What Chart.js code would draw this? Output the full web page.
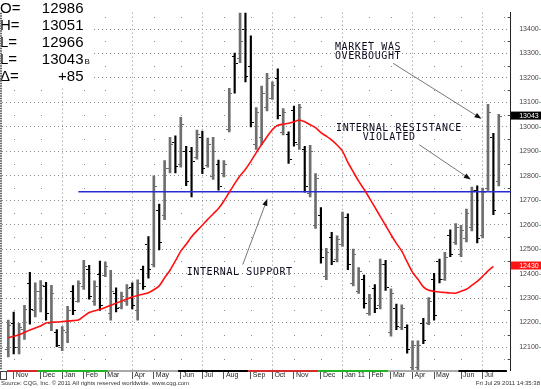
<!DOCTYPE html>
<html>
<head>
<meta charset="utf-8">
<script src="https://cdn.jsdelivr.net/npm/chart.js@4.4.0/dist/chart.umd.min.js"></script>
<style>
  html, body { margin: 0; padding: 0; background: #fff; }
  canvas { display: block; }
</style>
</head>
<body>
<canvas id="chart" width="541" height="389"></canvas>
<script>
// weekly bars, index 0 = week of 26 Oct 2009, last = week of 25 Jul 2011
const highs = [
  12210, 12243, 12197, 12270, 12405, 12362, 12372, 12364, 12352, 12171,
  12184, 12266, 12351, 12371, 12454, 12434, 12371, 12451, 12447, 12414,
  12342, 12325, 12355, 12362, 12375, 12431, 12552, 12800, 12684, 12862,
  12957, 12964, 13039, 12921, 12917, 12987, 12983, 12954, 12957, 12864,
  12862, 13158, 13302, 13480, 13470, 13372, 13079, 13167, 13219, 13184,
  13237, 13075, 12980, 13085, 13092, 12921, 12925, 12809, 12670, 12504,
  12569, 12555, 12652, 12645, 12500, 12425, 12394, 12315, 12355, 12460,
  12454, 12338, 12276, 12272, 12191, 12125, 12125, 12217, 12302, 12401,
  12460, 12487, 12579, 12605, 12598, 12664, 12754, 12759, 12750, 13092,
  12974, 13051
];
const lows = [
  12059, 12072, 12072, 12131, 12193, 12223, 12243, 12210, 12167, 12101,
  12085, 12118, 12232, 12283, 12335, 12296, 12270, 12250, 12388, 12210,
  12243, 12256, 12270, 12256, 12210, 12335, 12381, 12427, 12497, 12621,
  12812, 12812, 12835, 12760, 12714, 12868, 12809, 12835, 12785, 12741,
  12795, 12980, 13138, 13263, 13184, 13000, 12908, 12927, 13065, 13112,
  13033, 12967, 12851, 12921, 12908, 12733, 12714, 12585, 12443, 12375,
  12437, 12448, 12511, 12416, 12350, 12319, 12259, 12230, 12240, 12256,
  12331, 12144, 12171, 12171, 12075, 11990, 11990, 12114, 12191, 12210,
  12362, 12372, 12469, 12519, 12469, 12530, 12575, 12526, 12546, 12740,
  12641, 12759
];
const opens = [
  12090, 12200, 12100, 12175, 12360, 12250, 12330, 12350, 12200, 12160,
  12100, 12160, 12330, 12290, 12350, 12420, 12290, 12400, 12395, 12240,
  12320, 12265, 12290, 12345, 12250, 12420, 12520, 12440, 12660, 12640,
  12830, 12940, 12850, 12900, 12900, 12875, 12960, 12845, 12800, 12850,
  12810, 12990, 13290, 13280, 13400, 13250, 12930, 12960, 13080, 13120,
  13200, 12980, 12970, 13070, 12930, 12910, 12730, 12600, 12640, 12390,
  12550, 12460, 12520, 12630, 12360, 12330, 12380, 12240, 12340, 12270,
  12440, 12160, 12260, 12180, 12180, 12020, 12020, 12200, 12200, 12380,
  12450, 12380, 12560, 12530, 12480, 12545, 12590, 12740, 12560, 12750,
  12960, 12780
];
const closes = [
  12190, 12100, 12180, 12255, 12255, 12330, 12355, 12240, 12320, 12110,
  12170, 12250, 12250, 12360, 12430, 12310, 12350, 12270, 12430, 12330,
  12260, 12310, 12340, 12270, 12360, 12350, 12420, 12760, 12530, 12830,
  12930, 12840, 13010, 12780, 12860, 12970, 12830, 12930, 12900, 12760,
  12850, 13140, 13260, 13350, 13210, 13020, 13060, 13140, 13200, 13170,
  13050, 13060, 12870, 12940, 13080, 12760, 12900, 12790, 12470, 12490,
  12450, 12540, 12630, 12440, 12480, 12410, 12280, 12300, 12260, 12440,
  12345, 12320, 12185, 12260, 12090, 12110, 12110, 12130, 12290, 12230,
  12380, 12470, 12480, 12590, 12580, 12650, 12740, 12545, 12735, 13060,
  12660, 13043
];
// red moving average, one value per bar up to the second last bar
const movingAvg = [
  12138, 12144, 12150, 12160, 12170, 12178, 12186, 12198, 12201, 12202,
  12204, 12206, 12208, 12210, 12226, 12241, 12248, 12254, 12262, 12271,
  12279, 12288, 12296, 12305, 12311, 12316, 12322, 12334, 12350, 12383,
  12414, 12452, 12492, 12520, 12551, 12575, 12598, 12622, 12644, 12666,
  12697, 12733, 12768, 12800, 12827, 12859, 12895, 12928, 12960, 12989,
  13007, 13011, 13015, 13021, 13028, 13021, 13009, 12997, 12977, 12962,
  12946, 12926, 12901, 12855, 12816, 12778, 12745, 12709, 12672, 12634,
  12597, 12559, 12524, 12492, 12448, 12405, 12377, 12346, 12332, 12328,
  12325, 12323, 12321, 12320, 12328, 12336, 12352, 12368, 12389, 12411,
  12430
];
const supportLevel = 12735;
const supportFromBar = 13;

const yTicks = [12100, 12200, 12300, 12400, 12500, 12600, 12700, 12800, 12900, 13000, 13100, 13200, 13300, 13400];
const monthStarts = [1, 6, 10, 14, 18, 23, 27, 32, 36, 40, 45, 49, 53, 58, 62, 67, 71, 75, 79, 84, 88];
const monthNames = ['Nov', 'Dec', 'Jan', 'Feb', 'Mar', 'Apr', 'May', 'Jun', 'Jul', 'Aug', 'Sep', 'Oct', 'Nov', 'Dec', 'Jan 11', 'Feb', 'Mar', 'Apr', 'May', 'Jun', 'Jul'];
const quarterStarts = [10, 23, 36, 49, 62, 75, 88];
const contractBreaks = [-0.5, 5.5, 18.5, 31.5, 44.5, 57.5, 70.5, 83.5, 92.5];
const contractCodes = ['Z', 'H', 'M', 'U', 'Z', 'H', 'M', 'U'];

const quoteLabels = ['O=', 'H=', 'L=', 'L=', '\u0394='];
const quoteValues = ['12986', '13051', '12966', '13043', '+85'];
const lastPrice = 13043;
const lastAvg = 12430;

const upColor = '#6e6e6e';
const downColor = '#000000';
const contractColors = { Z: '#d42a2a', H: '#22b422', M: '#a9a9a9', U: '#000000' };

// annotation anchors in (bar index, price)
const noteTexts = [
  { text: 'MARKET WAS', x: 60.6, y: 13331 },
  { text: 'OVERBOUGHT', x: 60.6, y: 13292 },
  { text: 'INTERNAL RESISTANCE', x: 60.8, y: 12998 },
  { text: 'VIOLATED', x: 65.75, y: 12960 },
  { text: 'INTERNAL SUPPORT', x: 33.1, y: 12409 }
];
const noteArrows = [
  { from: [71.4, 13260], to: [87.8, 13033] },
  { from: [76.25, 12927], to: [85.8, 12785] },
  { from: [43.5, 12437], to: [48.05, 12706] }
];

const upBars = [];
const downBars = [];
highs.forEach((h, i) => {
  const bar = { x: i, y: [lows[i], h] };
  if (closes[i] >= opens[i]) upBars.push(bar); else downBars.push(bar);
});

// minor grid dots, open/close ticks, side panels
const decorations = {
  id: 'decorations',
  beforeDatasetsDraw(chart) {
    const { ctx, scales: { x, y } } = chart;
    ctx.save();
    ctx.fillStyle = '#8c8c8c';
    const cols = monthStarts.concat([92]).filter(m => !quarterStarts.includes(m));
    cols.forEach(m => {
      const px = Math.round(x.getPixelForValue(m));
      for (let p = 12050; p <= 13450; p += 100) {
        ctx.fillRect(px, Math.round(y.getPixelForValue(p)), 1, 1);
      }
    });
    ctx.restore();
  },
  afterDatasetsDraw(chart) {
    const { ctx, chartArea: a, scales: { x, y } } = chart;
    ctx.save();
    ctx.beginPath();
    ctx.rect(a.left, a.top, a.width, a.height);
    ctx.clip();
    ctx.lineWidth = 1;
    opens.forEach((o, i) => {
      const px = Math.round(x.getPixelForValue(i));
      ctx.strokeStyle = closes[i] >= o ? upColor : downColor;
      const yo = Math.round(y.getPixelForValue(o)) + 0.5;
      const yc = Math.round(y.getPixelForValue(closes[i])) + 0.5;
      ctx.beginPath();
      ctx.moveTo(px - 3, yo); ctx.lineTo(px - 1, yo);
      ctx.moveTo(px + 1, yc); ctx.lineTo(px + 3, yc);
      ctx.stroke();
    });

    // arrows
    noteArrows.forEach(n => {
      const x1 = x.getPixelForValue(n.from[0]), y1 = y.getPixelForValue(n.from[1]);
      const x2 = x.getPixelForValue(n.to[0]), y2 = y.getPixelForValue(n.to[1]);
      const ang = Math.atan2(y2 - y1, x2 - x1);
      ctx.strokeStyle = '#777';
      ctx.lineWidth = 1;
      ctx.beginPath();
      ctx.moveTo(x1, y1);
      ctx.lineTo(x2 - 4 * Math.cos(ang), y2 - 4 * Math.sin(ang));
      ctx.stroke();
      ctx.fillStyle = '#111';
      ctx.beginPath();
      ctx.moveTo(x2, y2);
      ctx.lineTo(x2 - 7 * Math.cos(ang) + 2.6 * Math.sin(ang), y2 - 7 * Math.sin(ang) - 2.6 * Math.cos(ang));
      ctx.lineTo(x2 - 7 * Math.cos(ang) - 2.6 * Math.sin(ang), y2 - 7 * Math.sin(ang) + 2.6 * Math.cos(ang));
      ctx.closePath();
      ctx.fill();
    });

    // texts
    ctx.fillStyle = '#0a0a1e';
    ctx.font = '10px "DejaVu Sans Mono", monospace';
    ctx.letterSpacing = '0.6px';
    ctx.textAlign = 'left';
    ctx.textBaseline = 'alphabetic';
    noteTexts.forEach(n => {
      ctx.fillText(n.text, x.getPixelForValue(n.x), y.getPixelForValue(n.y) + 3.6);
    });
    ctx.restore();
  },
  afterDraw(chart) {
    const { ctx, chartArea: a, scales: { x, y } } = chart;
    ctx.save();

    // quote panel
    ctx.fillStyle = '#fff';
    ctx.fillRect(0, 0, 94, 86);
    ctx.fillStyle = '#000';
    ctx.font = '15px "Liberation Sans", Arial, sans-serif';
    ctx.textBaseline = 'alphabetic';
    quoteLabels.forEach((lab, k) => {
      const base = 7.5 + 16.9 * k + 5.4;
      ctx.textAlign = 'left';
      ctx.fillText(lab, 0, base);
      ctx.textAlign = 'right';
      ctx.fillText(quoteValues[k], 83.5, base);
    });
    ctx.font = '8px "Liberation Sans", Arial, sans-serif';
    ctx.textAlign = 'left';
    ctx.fillText('B', 84.5, 7.5 + 16.9 * 3 + 5.4);

    // left edge
    ctx.strokeStyle = '#666';
    ctx.lineWidth = 2;
    ctx.setLineDash([1.5, 1]);
    ctx.beginPath();
    ctx.moveTo(1, a.top);
    ctx.lineTo(1, a.bottom);
    ctx.stroke();
    ctx.setLineDash([]);

    // minor ticks on right axis, small marks after labels
    ctx.strokeStyle = '#444';
    ctx.lineWidth = 1;
    for (let p = 12050; p <= 13450; p += 100) {
      const py = Math.round(y.getPixelForValue(p)) + 0.5;
      ctx.beginPath();
      ctx.moveTo(a.right - 3, py);
      ctx.lineTo(a.right, py);
      ctx.stroke();
    }
    ctx.strokeStyle = '#8aa';
    yTicks.forEach(p => {
      const py = Math.round(y.getPixelForValue(p)) + 0.5;
      ctx.beginPath();
      ctx.moveTo(539, py);
      ctx.lineTo(541, py);
      ctx.stroke();
    });

    // contract strip
    contractCodes.forEach((c, k) => {
      const x1 = Math.max(x.getPixelForValue(contractBreaks[k]), a.left + 5);
      const x2 = Math.min(x.getPixelForValue(contractBreaks[k + 1]), a.right - 3);
      ctx.fillStyle = contractColors[c];
      ctx.fillRect(x1, a.bottom, x2 - x1, 2);
    });
    ctx.strokeStyle = '#444';
    ctx.strokeRect(0.5, a.bottom + 1.5, 6, 8);

    // value boxes
    ctx.font = '7px "Liberation Sans", Arial, sans-serif';
    ctx.textAlign = 'left';
    ctx.textBaseline = 'middle';
    [[lastPrice, '#000'], [lastAvg, '#ff1414']].forEach(([v, col]) => {
      const py = y.getPixelForValue(v) - 0.8;
      ctx.fillStyle = col;
      ctx.fillRect(a.right, py - 4, 541 - a.right, 8);
      ctx.fillStyle = '#fff';
      ctx.fillText(String(v), a.right + 8.5, py + 0.5);
    });

    // footer
    ctx.fillStyle = '#333';
    ctx.font = '6px "Liberation Sans", Arial, sans-serif';
    ctx.textBaseline = 'middle';
    ctx.textAlign = 'left';
    ctx.fillText('Source: CQG, Inc. \u00a9 2011 All rights reserved worldwide. www.cqg.com', 1, 383.5);
    ctx.textAlign = 'right';
    ctx.fillText('Fri Jul 29 2011 14:35:38', 540, 383.5);
    ctx.restore();
  }
};

Chart.defaults.font.family = '"Liberation Sans", Arial, sans-serif';

new Chart(document.getElementById('chart'), {
  type: 'bar',
  data: {
    datasets: [
      {
        type: 'line',
        data: movingAvg.map((v, i) => ({ x: i, y: v })),
        borderColor: '#ff1010',
        borderWidth: 1.6,
        pointRadius: 0,
        tension: 0.2,
        order: 0
      },
      {
        type: 'line',
        data: [{ x: supportFromBar, y: supportLevel }, { x: 94, y: supportLevel }],
        borderColor: '#2a2ad4',
        borderWidth: 1.5,
        pointRadius: 0,
        order: 1
      },
      {
        data: upBars,
        backgroundColor: upColor,
        barThickness: 2,
        grouped: false,
        order: 2
      },
      {
        data: downBars,
        backgroundColor: downColor,
        barThickness: 1.5,
        grouped: false,
        order: 2
      }
    ]
  },
  options: {
    responsive: false,
    animation: false,
    events: [],
    layout: { autoPadding: false, padding: { left: 2, top: 0, right: 0, bottom: 0 } },
    plugins: { legend: { display: false }, tooltip: { enabled: false } },
    scales: {
      x: {
        type: 'linear',
        offset: false,
        min: -1.17,
        max: 93.21,
        afterBuildTicks: axis => { axis.ticks = monthStarts.map(v => ({ value: v })); },
        afterFit: axis => { axis.height = 19; },
        grid: {
          offset: false,
          color: c => (c.tick && quarterStarts.includes(c.tick.value)) ? '#8c8c8c' : 'rgba(0,0,0,0)',
          lineWidth: 1,
          drawTicks: true,
          tickLength: 9,
          tickColor: '#555'
        },
        border: { display: false, dash: [1, 3] },
        ticks: {
          autoSkip: false,
          maxRotation: 0,
          align: 'start',
          labelOffset: 2,
          padding: -8.5,
          color: '#222',
          font: { size: 7 },
          callback: (v, i) => monthNames[i]
        }
      },
      y: {
        position: 'right',
        min: 12006,
        max: 13467,
        afterBuildTicks: axis => { axis.ticks = yTicks.map(v => ({ value: v })); },
        afterFit: axis => { axis.width = 30.3; },
        grid: { color: '#8c8c8c', lineWidth: 1, drawTicks: false },
        border: { display: true, color: '#222', width: 1, dash: [1, 3] },
        ticks: {
          padding: 8.5,
          color: '#444',
          font: { size: 7 },
          callback: v => String(v)
        }
      }
    }
  },
  plugins: [decorations]
});
</script>
</body>
</html>
